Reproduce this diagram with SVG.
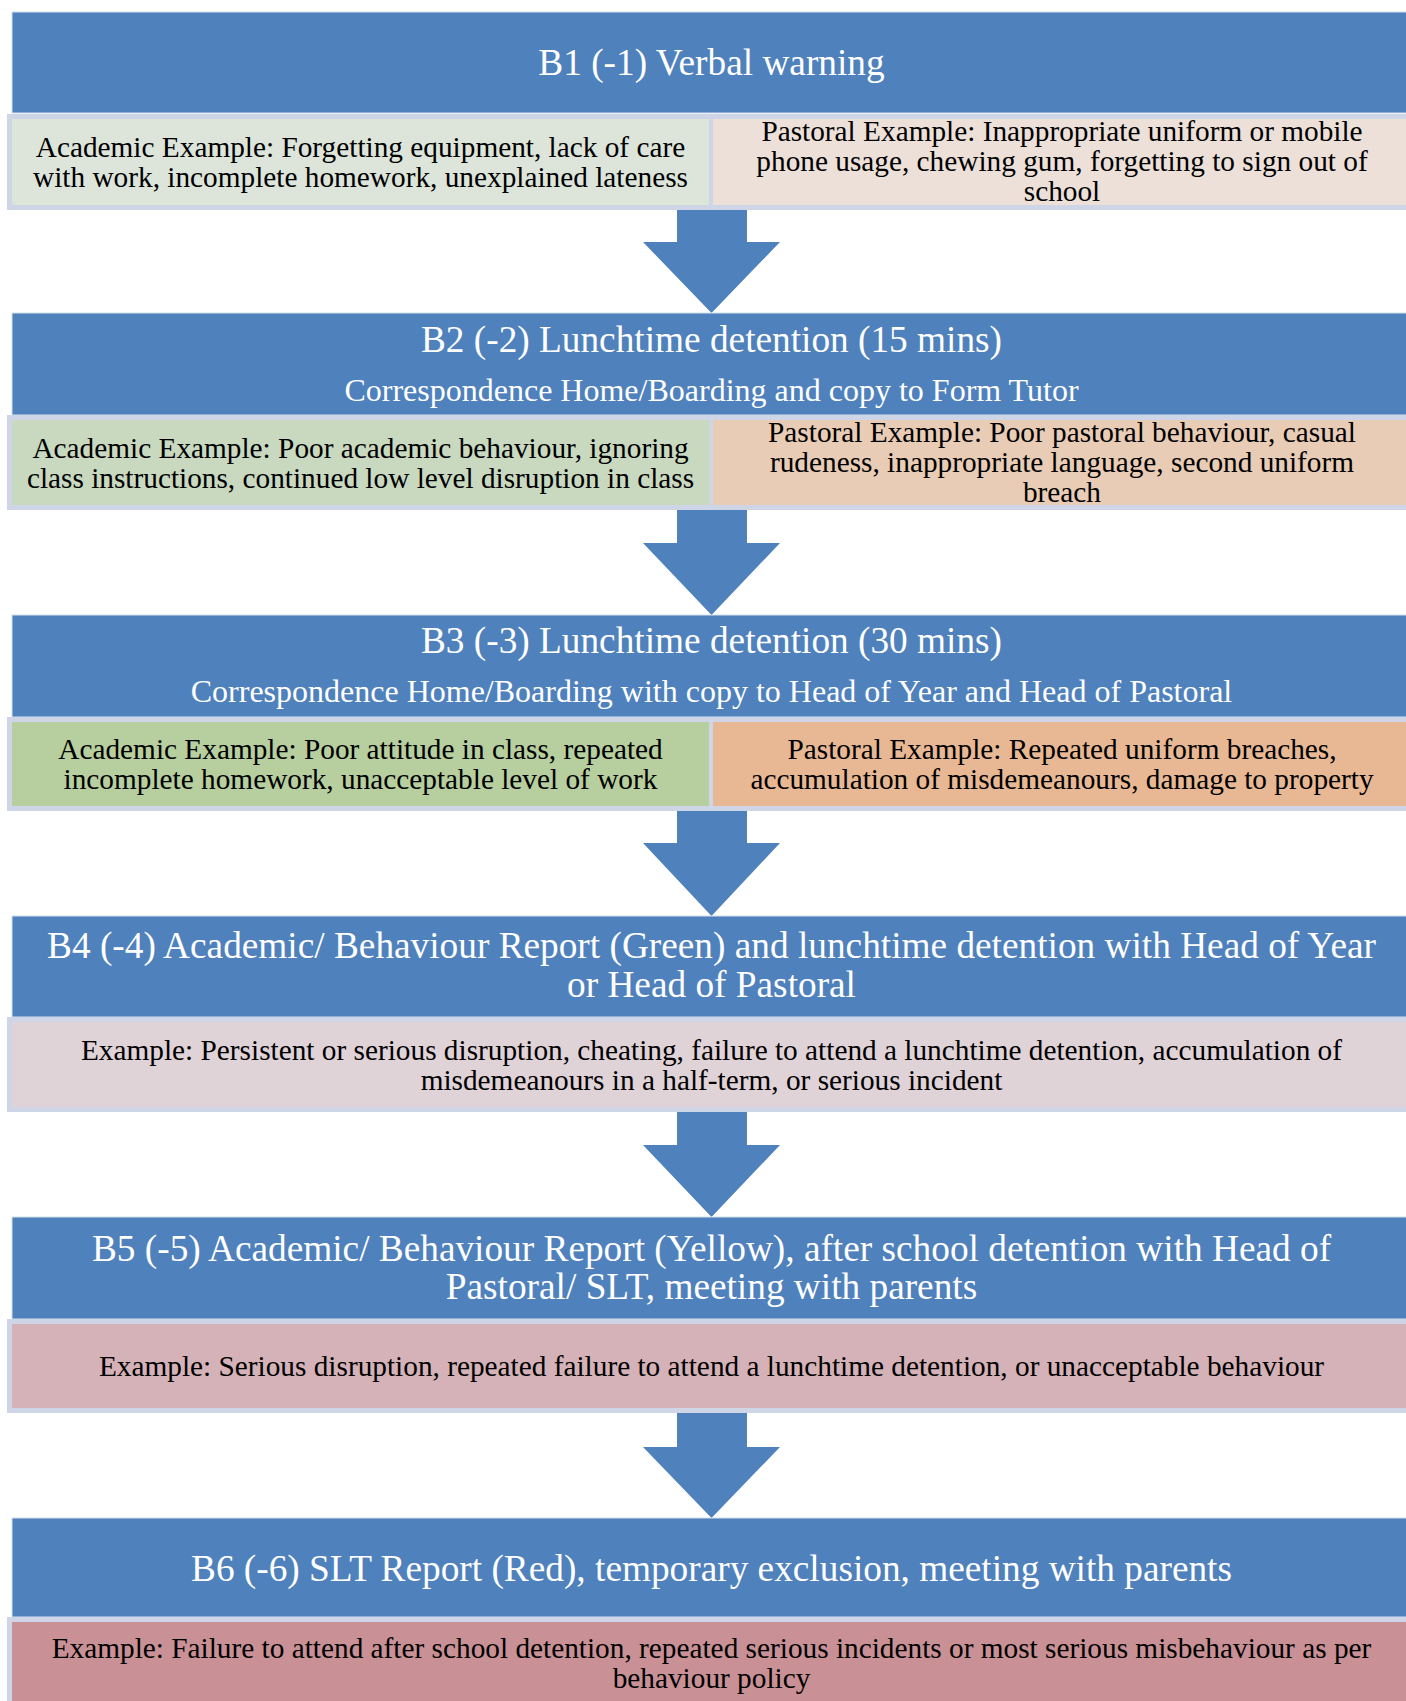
<svg xmlns="http://www.w3.org/2000/svg" width="1406" height="1701" viewBox="0 0 1406 1701">
<style>
.hd{fill:#4F81BD;stroke:#D6DFEC;stroke-width:1}
.bd{fill:#CDD5E7}
.ht{font-family:"Liberation Serif","Times New Roman",serif;font-size:37.3px;fill:#FFFFFF;text-anchor:middle}
.st{font-family:"Liberation Serif","Times New Roman",serif;font-size:32px;fill:#FFFFFF;text-anchor:middle}
.et{font-family:"Liberation Serif","Times New Roman",serif;font-size:29.3px;fill:#000000;text-anchor:middle}
.ar{fill:#4F81BD}
</style>
<rect width="1406" height="1701" fill="#FFFFFF"/>
<g id="connectors">
<path class="ar" d="M677,206 H747 V242 H780 L711.5,313 L643,242 H677 Z"/>
<path class="ar" d="M677,506 H747 V543 H780 L711.5,615 L643,543 H677 Z"/>
<path class="ar" d="M677,807 H747 V843 H780 L711.5,916 L643,843 H677 Z"/>
<path class="ar" d="M677,1108 H747 V1145 H780 L711.5,1217 L643,1145 H677 Z"/>
<path class="ar" d="M677,1409 H747 V1447 H780 L711.5,1518 L643,1447 H677 Z"/>
</g>
<g id="b1">
<rect class="hd" x="12" y="12" width="1410" height="101"/>
<text class="ht" x="711.5" y="75">B1 (-1) Verbal warning</text>
</g>
<g id="b1-examples">
<rect class="bd" x="7" y="114" width="1410" height="96"/>
<rect x="12" y="119" width="697" height="86" fill="#DDE5DB"/>
<rect x="713" y="119" width="700" height="86" fill="#ECE0D9"/>
<text class="et" x="360.5" y="157">Academic Example: Forgetting equipment, lack of care</text>
<text class="et" x="360.5" y="187">with work, incomplete homework, unexplained lateness</text>
<text class="et" x="1062" y="141">Pastoral Example: Inappropriate uniform or mobile</text>
<text class="et" x="1062" y="171">phone usage, chewing gum, forgetting to sign out of</text>
<text class="et" x="1062" y="201">school</text>
</g>
<g id="b2">
<rect class="hd" x="12" y="313" width="1410" height="102"/>
<text class="ht" x="711.5" y="352">B2 (-2) Lunchtime detention (15 mins)</text>
<text class="st" x="711.5" y="401">Correspondence Home/Boarding and copy to Form Tutor</text>
</g>
<g id="b2-examples">
<rect class="bd" x="7" y="415" width="1410" height="95"/>
<rect x="12" y="420" width="697" height="85" fill="#C9D9C0"/>
<rect x="713" y="420" width="700" height="85" fill="#E9CCB5"/>
<text class="et" x="360.5" y="458">Academic Example: Poor academic behaviour, ignoring</text>
<text class="et" x="360.5" y="488">class instructions, continued low level disruption in class</text>
<text class="et" x="1062" y="442">Pastoral Example: Poor pastoral behaviour, casual</text>
<text class="et" x="1062" y="472">rudeness, inappropriate language, second uniform</text>
<text class="et" x="1062" y="502">breach</text>
</g>
<g id="b3">
<rect class="hd" x="12" y="615" width="1410" height="102"/>
<text class="ht" x="711.5" y="653">B3 (-3) Lunchtime detention (30 mins)</text>
<text class="st" x="711.5" y="702">Correspondence Home/Boarding with copy to Head of Year and Head of Pastoral</text>
</g>
<g id="b3-examples">
<rect class="bd" x="7" y="717" width="1410" height="94"/>
<rect x="12" y="722" width="697" height="84" fill="#B7CE9F"/>
<rect x="713" y="722" width="700" height="84" fill="#E8B894"/>
<text class="et" x="360.5" y="759">Academic Example: Poor attitude in class, repeated</text>
<text class="et" x="360.5" y="789">incomplete homework, unacceptable level of work</text>
<text class="et" x="1062" y="759">Pastoral Example: Repeated uniform breaches,</text>
<text class="et" x="1062" y="789">accumulation of misdemeanours, damage to property</text>
</g>
<g id="b4">
<rect class="hd" x="12" y="916" width="1410" height="101"/>
<text class="ht" x="711.5" y="958">B4 (-4) Academic/ Behaviour Report (Green) and lunchtime detention with Head of Year</text>
<text class="ht" x="711.5" y="997">or Head of Pastoral</text>
</g>
<g id="b4-example">
<rect class="bd" x="7" y="1017" width="1410" height="95"/>
<rect x="12" y="1022" width="1401" height="85" fill="#E0D3D8"/>
<text class="et" x="711.5" y="1060">Example: Persistent or serious disruption, cheating, failure to attend a lunchtime detention, accumulation of</text>
<text class="et" x="711.5" y="1090">misdemeanours in a half-term, or serious incident</text>
</g>
<g id="b5">
<rect class="hd" x="12" y="1217" width="1410" height="102"/>
<text class="ht" x="711.5" y="1261">B5 (-5) Academic/ Behaviour Report (Yellow), after school detention with Head of</text>
<text class="ht" x="711.5" y="1299">Pastoral/ SLT, meeting with parents</text>
</g>
<g id="b5-example">
<rect class="bd" x="7" y="1319" width="1410" height="94"/>
<rect x="12" y="1324" width="1401" height="84" fill="#D5B2B7"/>
<text class="et" x="711.5" y="1376">Example: Serious disruption, repeated failure to attend a lunchtime detention, or unacceptable behaviour</text>
</g>
<g id="b6">
<rect class="hd" x="12" y="1518" width="1410" height="99"/>
<text class="ht" x="711.5" y="1581">B6 (-6) SLT Report (Red), temporary exclusion, meeting with parents</text>
</g>
<g id="b6-example">
<rect class="bd" x="7" y="1617" width="1410" height="100"/>
<rect x="12" y="1622" width="1401" height="90" fill="#C99196"/>
<text class="et" x="711.5" y="1658">Example: Failure to attend after school detention, repeated serious incidents or most serious misbehaviour as per</text>
<text class="et" x="711.5" y="1688">behaviour policy</text>
</g>
</svg>
